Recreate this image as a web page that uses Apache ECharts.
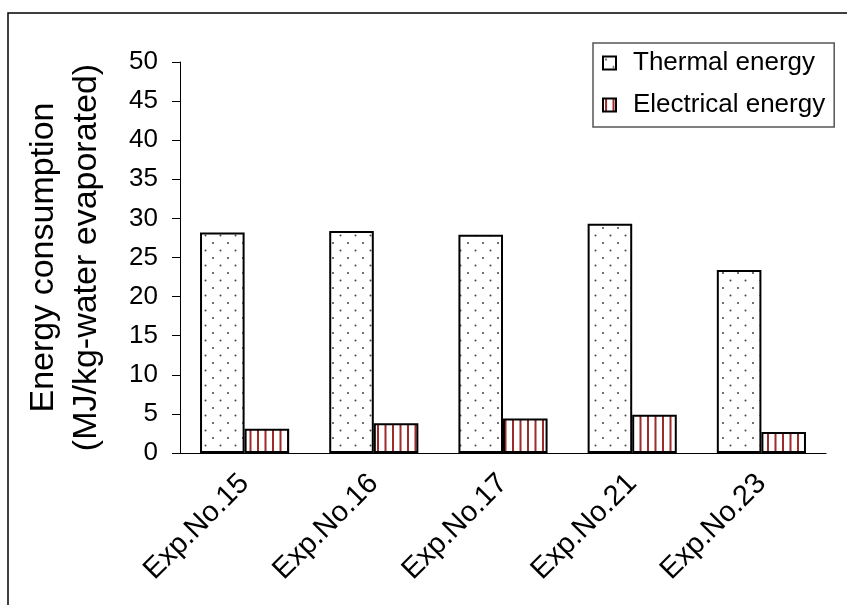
<!DOCTYPE html>
<html>
<head>
<meta charset="utf-8">
<script src="https://cdn.jsdelivr.net/npm/echarts@6/dist/echarts.min.js"></script>
<style>
  html, body { margin: 0; padding: 0; background: #fff; }
  #chart { width: 847px; height: 605px; }
</style>
</head>
<body>
<div id="chart"></div>
<script>
// Experiments and energy per kg of evaporated water
const experiments = ['Exp.No.15', 'Exp.No.16', 'Exp.No.17', 'Exp.No.21', 'Exp.No.23'];
const thermalEnergy = [28.2, 28.4, 27.9, 29.3, 23.4];
const electricalEnergy = [3.1, 3.8, 4.4, 4.9, 2.7];
const seriesNames = ['Thermal energy', 'Electrical energy'];
const yTicks = { min: 0, max: 50, step: 5 };

const FONT = '"Liberation Sans", Arial, sans-serif';

// Dotted fill for the thermal bars
function dotPattern() {
  const c = document.createElement('canvas');
  c.width = 15; c.height = 15;
  const g = c.getContext('2d');
  g.fillStyle = '#fff';
  g.fillRect(0, 0, 15, 15);
  g.fillStyle = '#444';
  g.beginPath(); g.arc(3, 3, 1, 0, Math.PI * 2); g.fill();
  g.beginPath(); g.arc(10.5, 10.5, 1, 0, Math.PI * 2); g.fill();
  return c;
}

// Vertical red stripes for the electrical bars
function stripePattern() {
  const c = document.createElement('canvas');
  c.width = 15; c.height = 10;
  const g = c.getContext('2d');
  g.fillStyle = '#fff';
  g.fillRect(0, 0, 15, 10);
  g.fillStyle = '#9e2a2a';
  g.fillRect(2, 0, 2, 10);
  g.fillRect(9.5, 0, 2, 10);
  return c;
}

const chart = echarts.init(document.getElementById('chart'), null, { renderer: 'canvas' });

chart.setOption({
  animation: false,
  backgroundColor: '#fff',
  textStyle: { fontFamily: FONT },
  graphic: [{
    type: 'rect',
    shape: { x: 8, y: 13, width: 900, height: 700 },
    style: { fill: 'none', stroke: '#000', lineWidth: 1.5 },
    silent: true
  }],
  legend: {
    orient: 'vertical',
    left: 593,
    top: 43,
    padding: [5, 9, 7, 9],
    itemGap: 12,
    itemWidth: 13,
    itemHeight: 13,
    icon: 'rect',
    borderColor: '#555',
    borderWidth: 1.5,
    backgroundColor: '#fff',
    textStyle: { fontFamily: FONT, fontSize: 26, lineHeight: 30, color: '#000', padding: [0, 0, 0, 12] },
    data: seriesNames
  },
  grid: { left: 180, top: 62, right: 21, bottom: 152, containLabel: false },
  xAxis: {
    type: 'category',
    data: experiments,
    boundaryGap: true,
    axisLine: { lineStyle: { color: '#000', width: 1 } },
    axisTick: { alignWithLabel: false, length: 8, lineStyle: { color: '#000' } },
    axisLabel: { rotate: 45, margin: 26, fontSize: 29, color: '#000', fontFamily: FONT }
  },
  yAxis: {
    type: 'value',
    min: yTicks.min,
    max: yTicks.max,
    interval: yTicks.step,
    name: 'Energy consumption\n(MJ/kg-water evaporated)',
    nameLocation: 'middle',
    nameRotate: 90,
    nameGap: 72,
    nameTextStyle: { fontSize: 34, color: '#000', fontFamily: FONT, lineHeight: 43 },
    axisLine: { show: true, lineStyle: { color: '#000', width: 1 } },
    axisTick: { show: true, length: 8, lineStyle: { color: '#000' } },
    splitLine: { show: false },
    axisLabel: { margin: 22, fontSize: 26, color: '#000', fontFamily: FONT }
  },
  series: [
    {
      name: seriesNames[0],
      type: 'bar',
      data: thermalEnergy,
      barWidth: '34.5%',
      barGap: '0%',
      itemStyle: {
        color: { image: dotPattern(), repeat: 'repeat' },
        borderColor: '#000',
        borderWidth: 2
      }
    },
    {
      name: seriesNames[1],
      type: 'bar',
      data: electricalEnergy,
      barWidth: '34.5%',
      barGap: '0%',
      itemStyle: {
        color: { image: stripePattern(), repeat: 'repeat' },
        borderColor: '#000',
        borderWidth: 2
      }
    }
  ]
});
</script>
</body>
</html>
